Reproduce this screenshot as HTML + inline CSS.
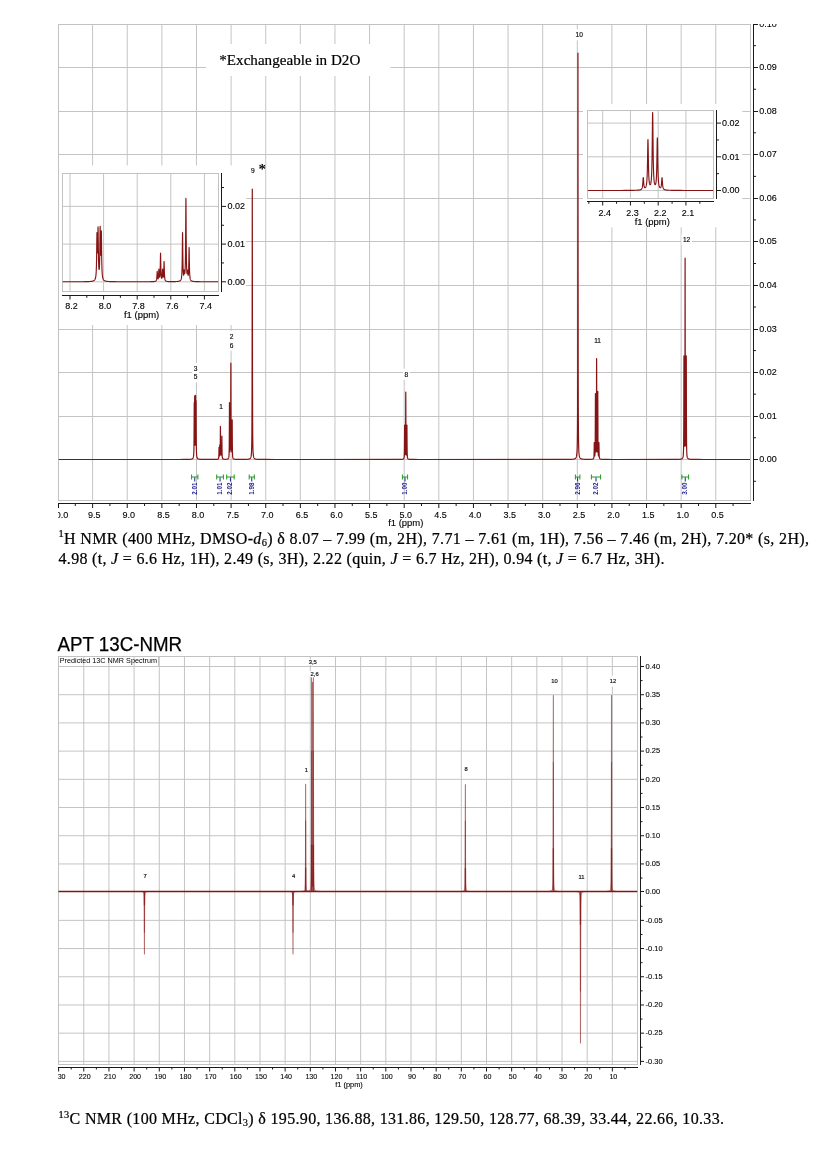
<!DOCTYPE html>
<html><head><meta charset="utf-8"><title>NMR spectra</title>
<style>
html,body{margin:0;padding:0;background:#fff;}
body{width:838px;height:1156px;position:relative;overflow:hidden;font-family:"Liberation Sans",sans-serif;}
</style></head><body>
<svg width="838" height="1156" viewBox="0 0 838 1156" style="position:absolute;left:0;top:0">
<rect width="838" height="1156" fill="#fff"/>
<g opacity="0.999">
<path d="M92.62 24.5 V500.5 M127.24 24.5 V500.5 M161.86 24.5 V500.5 M196.48 24.5 V500.5 M231.1 24.5 V500.5 M265.72 24.5 V500.5 M300.34 24.5 V500.5 M334.96 24.5 V500.5 M369.58 24.5 V500.5 M404.2 24.5 V500.5 M438.82 24.5 V500.5 M473.44 24.5 V500.5 M508.06 24.5 V500.5 M542.68 24.5 V500.5 M577.3 24.5 V500.5 M611.92 24.5 V500.5 M646.54 24.5 V500.5 M681.16 24.5 V500.5 M715.78 24.5 V500.5 M58.5 459.5 H750.5 M58.5 416.5 H750.5 M58.5 372.5 H750.5 M58.5 329.5 H750.5 M58.5 285.5 H750.5 M58.5 241.5 H750.5 M58.5 198.5 H750.5 M58.5 154.5 H750.5 M58.5 111.5 H750.5 M58.5 67.5 H750.5" stroke="#c4c4c4" stroke-width="1" fill="none"/>
<rect x="58.5" y="24.5" width="692" height="476" fill="none" stroke="#c2c2c2" stroke-width="1"/>
<rect x="206" y="44" width="184.5" height="32" fill="#fff"/>
<text x="219.3" y="65" font-family="Liberation Serif, serif" font-size="15.1" fill="#000" stroke="#000" stroke-width="0.2" textLength="141" lengthAdjust="spacingAndGlyphs">*Exchangeable in D2O</text>
<rect x="192.37" y="362.9" width="6.67" height="11" fill="#fff"/>
<text x="195.7" y="370.76" font-size="6.6" text-anchor="middle" fill="#111" stroke="#111" stroke-width="0.18" font-family="Liberation Sans, sans-serif">3</text>
<rect x="192.37" y="371.3" width="6.67" height="11" fill="#fff"/>
<text x="195.7" y="379.16" font-size="6.6" text-anchor="middle" fill="#111" stroke="#111" stroke-width="0.18" font-family="Liberation Sans, sans-serif">5</text>
<rect x="217.77" y="401.3" width="6.67" height="11" fill="#fff"/>
<text x="221.1" y="409.16" font-size="6.6" text-anchor="middle" fill="#111" stroke="#111" stroke-width="0.18" font-family="Liberation Sans, sans-serif">1</text>
<rect x="228.27" y="331.1" width="6.67" height="11" fill="#fff"/>
<text x="231.6" y="338.96" font-size="6.6" text-anchor="middle" fill="#111" stroke="#111" stroke-width="0.18" font-family="Liberation Sans, sans-serif">2</text>
<rect x="228.27" y="339.8" width="6.67" height="11" fill="#fff"/>
<text x="231.6" y="347.66" font-size="6.6" text-anchor="middle" fill="#111" stroke="#111" stroke-width="0.18" font-family="Liberation Sans, sans-serif">6</text>
<rect x="402.97" y="368.8" width="6.67" height="11" fill="#fff"/>
<text x="406.3" y="376.66" font-size="6.6" text-anchor="middle" fill="#111" stroke="#111" stroke-width="0.18" font-family="Liberation Sans, sans-serif">8</text>
<rect x="574.03" y="29.3" width="10.34" height="11" fill="#fff"/>
<text x="579.2" y="37.16" font-size="6.6" text-anchor="middle" fill="#111" stroke="#111" stroke-width="0.18" font-family="Liberation Sans, sans-serif">10</text>
<rect x="592.43" y="334.7" width="10.34" height="11" fill="#fff"/>
<text x="597.6" y="342.56" font-size="6.6" text-anchor="middle" fill="#111" stroke="#111" stroke-width="0.18" font-family="Liberation Sans, sans-serif">11</text>
<rect x="681.43" y="234.3" width="10.34" height="11" fill="#fff"/>
<text x="686.6" y="242.16" font-size="6.6" text-anchor="middle" fill="#111" stroke="#111" stroke-width="0.18" font-family="Liberation Sans, sans-serif">12</text>
<path d="M58.7 459.5 L179.06 459.48 L183.98 459.46 L186.14 459.44 L187.46 459.42 L188.3 459.39 L188.9 459.37 L189.38 459.35 L189.74 459.33 L190.1 459.3 L190.34 459.28 L190.58 459.26 L190.82 459.23 L191.06 459.2 L191.18 459.18 L191.3 459.15 L191.42 459.13 L191.54 459.1 L191.66 459.07 L191.78 459.03 L191.9 459 L192.02 458.95 L192.14 458.9 L192.26 458.84 L192.38 458.77 L192.5 458.68 L192.62 458.59 L192.74 458.47 L192.86 458.32 L192.98 458.14 L193.1 457.91 L193.22 457.61 L193.34 457.2 L193.46 456.63 L193.58 455.79 L193.7 454.47 L193.82 452.17 L193.94 447.64 L194.06 437.14 L194.18 413.2 L194.25 402.57 L194.3 406.76 L194.42 424.89 L194.54 421.94 L194.66 398.93 L194.7 395.9 L194.78 410.35 L194.9 434.29 L195.02 443.29 L195.14 445.26 L195.26 442.42 L195.38 431.54 L195.5 405.04 L195.56 395.44 L195.62 402.31 L195.74 425.13 L195.86 427.11 L195.98 408.31 L196.05 400.63 L196.1 407.86 L196.22 434.13 L196.34 446.42 L196.46 451.59 L196.58 454.15 L196.7 455.6 L196.82 456.5 L196.94 457.11 L197.06 457.54 L197.18 457.86 L197.3 458.1 L197.42 458.29 L197.54 458.44 L197.66 458.56 L197.78 458.67 L197.9 458.75 L198.02 458.82 L198.14 458.89 L198.26 458.94 L198.38 458.98 L198.5 459.03 L198.62 459.06 L198.74 459.09 L198.86 459.12 L198.98 459.15 L199.1 459.17 L199.22 459.19 L199.46 459.22 L199.7 459.25 L199.94 459.28 L200.18 459.3 L200.54 459.32 L200.9 459.35 L201.38 459.37 L201.98 459.39 L202.82 459.41 L204.14 459.43 L206.9 459.45 L214.58 459.43 L215.54 459.41 L216.14 459.39 L216.62 459.36 L216.98 459.33 L217.22 459.31 L217.46 459.27 L217.58 459.25 L217.7 459.22 L217.82 459.18 L217.94 459.14 L218.06 459.08 L218.18 459 L218.3 458.89 L218.42 458.72 L218.54 458.45 L218.66 457.94 L218.78 456.82 L218.9 453.71 L219.02 447.58 L219.04 447.38 L219.14 451.86 L219.26 455.46 L219.38 456.09 L219.5 454.97 L219.62 450.55 L219.73 444.86 L219.74 444.97 L219.86 451.39 L219.98 454.09 L220.1 453.46 L220.22 449.14 L220.34 435.38 L220.42 426.27 L220.46 429.51 L220.58 446.46 L220.7 453.02 L220.82 455.08 L220.94 455.3 L221.06 453.63 L221.18 447.71 L221.25 444.68 L221.3 446.54 L221.42 452.76 L221.54 454.14 L221.66 452.08 L221.78 443.6 L221.87 435.99 L221.9 437.26 L222.02 449.6 L222.14 454.99 L222.26 456.96 L222.38 457.84 L222.5 458.3 L222.62 458.58 L222.74 458.76 L222.86 458.89 L222.98 458.98 L223.1 459.04 L223.22 459.1 L223.34 459.14 L223.46 459.17 L223.58 459.19 L223.7 459.22 L223.94 459.25 L224.18 459.27 L224.66 459.29 L226.1 459.27 L226.46 459.24 L226.7 459.21 L226.94 459.18 L227.06 459.16 L227.18 459.13 L227.3 459.11 L227.42 459.08 L227.54 459.04 L227.66 458.99 L227.78 458.94 L227.9 458.88 L228.02 458.8 L228.14 458.7 L228.26 458.58 L228.38 458.42 L228.5 458.2 L228.62 457.9 L228.74 457.45 L228.86 456.76 L228.98 455.57 L229.1 453.28 L229.22 448.01 L229.34 433.09 L229.46 403.48 L229.48 402.56 L229.58 425.3 L229.7 444.54 L229.82 450.53 L229.94 451.84 L230.06 449.6 L230.17 445.81 L230.18 445.85 L230.3 449.41 L230.42 449.45 L230.54 444.92 L230.66 431.14 L230.78 390.21 L230.86 363.18 L230.9 372.63 L231.02 422.63 L231.14 442.2 L231.26 448.71 L231.38 450.06 L231.5 446.97 L231.55 446.04 L231.62 448.28 L231.74 451.85 L231.86 451.37 L231.98 446.15 L232.1 429.28 L232.17 419.81 L232.22 424.83 L232.34 444.85 L232.46 452.58 L232.58 455.48 L232.7 456.82 L232.82 457.55 L232.94 458 L233.06 458.29 L233.18 458.5 L233.3 458.65 L233.42 458.77 L233.54 458.86 L233.66 458.93 L233.78 458.99 L233.9 459.04 L234.02 459.08 L234.14 459.12 L234.26 459.15 L234.38 459.17 L234.5 459.2 L234.62 459.22 L234.86 459.25 L235.1 459.28 L235.34 459.3 L235.7 459.33 L236.06 459.35 L236.54 459.37 L237.26 459.39 L238.46 459.41 L245.06 459.39 L245.9 459.37 L246.5 459.34 L246.98 459.32 L247.34 459.29 L247.7 459.26 L247.94 459.24 L248.18 459.21 L248.42 459.17 L248.54 459.15 L248.66 459.13 L248.78 459.11 L248.9 459.08 L249.02 459.05 L249.14 459.02 L249.26 458.98 L249.38 458.94 L249.5 458.89 L249.62 458.84 L249.74 458.77 L249.86 458.7 L249.98 458.62 L250.1 458.52 L250.22 458.41 L250.34 458.27 L250.46 458.1 L250.58 457.91 L250.7 457.66 L250.82 457.35 L250.94 456.96 L251.06 456.45 L251.18 455.77 L251.3 454.83 L251.42 453.49 L251.54 451.48 L251.66 448.29 L251.78 442.78 L251.9 432.18 L252.02 408.33 L252.14 343.83 L252.26 204.13 L252.29 188.98 L252.38 272.77 L252.5 382.36 L252.62 422.1 L252.74 438.07 L252.86 445.76 L252.98 449.98 L253.1 452.52 L253.22 454.18 L253.34 455.31 L253.46 456.11 L253.58 456.71 L253.7 457.16 L253.82 457.51 L253.94 457.78 L254.06 458.01 L254.18 458.19 L254.3 458.34 L254.42 458.46 L254.54 458.57 L254.66 458.66 L254.78 458.74 L254.9 458.81 L255.02 458.87 L255.14 458.92 L255.26 458.96 L255.38 459 L255.5 459.04 L255.62 459.07 L255.74 459.1 L255.86 459.13 L255.98 459.15 L256.1 459.17 L256.34 459.21 L256.58 459.24 L256.82 459.27 L257.06 459.29 L257.42 459.32 L257.78 459.34 L258.26 459.36 L258.86 459.39 L259.58 459.41 L260.66 459.43 L262.34 459.45 L265.46 459.47 L275.9 459.49 L397.46 459.47 L399.26 459.45 L400.22 459.43 L400.94 459.4 L401.42 459.38 L401.78 459.35 L402.02 459.33 L402.26 459.3 L402.5 459.26 L402.62 459.24 L402.74 459.22 L402.86 459.18 L402.98 459.15 L403.1 459.1 L403.22 459.05 L403.34 458.98 L403.46 458.9 L403.58 458.79 L403.7 458.64 L403.82 458.43 L403.94 458.12 L404.06 457.62 L404.18 456.76 L404.3 455.04 L404.42 450.84 L404.54 438.68 L404.64 425.07 L404.66 425.74 L404.78 443.33 L404.9 451.74 L405.02 454.35 L405.14 454.96 L405.26 454.43 L405.38 452.55 L405.5 447.74 L405.62 434.08 L405.74 399.11 L405.78 392.06 L405.86 410.57 L405.98 439.65 L406.1 449.62 L406.22 453.28 L406.34 454.69 L406.46 454.91 L406.58 453.89 L406.7 450.24 L406.82 438.63 L406.92 425.07 L406.94 425.67 L407.06 443.54 L407.18 452.5 L407.3 455.67 L407.42 457.07 L407.54 457.79 L407.66 458.22 L407.78 458.49 L407.9 458.68 L408.02 458.82 L408.14 458.92 L408.26 459 L408.38 459.07 L408.5 459.12 L408.62 459.16 L408.74 459.19 L408.86 459.22 L408.98 459.25 L409.1 459.27 L409.34 459.31 L409.58 459.33 L409.82 459.35 L410.18 459.38 L410.66 459.4 L411.26 459.43 L412.22 459.45 L413.9 459.47 L418.82 459.49 L562.46 459.47 L565.94 459.45 L567.86 459.43 L569.06 459.41 L570.02 459.38 L570.74 459.36 L571.22 459.34 L571.7 459.31 L572.06 459.29 L572.42 459.26 L572.66 459.24 L572.9 459.22 L573.14 459.19 L573.38 459.15 L573.5 459.14 L573.62 459.12 L573.74 459.09 L573.86 459.07 L573.98 459.04 L574.1 459.02 L574.22 458.99 L574.34 458.95 L574.46 458.91 L574.58 458.87 L574.7 458.82 L574.82 458.77 L574.94 458.71 L575.06 458.65 L575.18 458.57 L575.3 458.49 L575.42 458.39 L575.54 458.28 L575.66 458.15 L575.78 457.99 L575.9 457.81 L576.02 457.6 L576.14 457.34 L576.26 457.02 L576.38 456.63 L576.5 456.14 L576.62 455.51 L576.74 454.69 L576.86 453.58 L576.98 452.04 L577.1 449.82 L577.22 446.44 L577.34 440.98 L577.46 431.32 L577.58 412.06 L577.7 366.63 L577.82 240.28 L577.94 53.12 L577.94 53.07 L578.06 235.58 L578.18 364.95 L578.3 411.4 L578.42 431.01 L578.54 440.81 L578.66 446.34 L578.78 449.75 L578.9 451.99 L579.02 453.55 L579.14 454.66 L579.26 455.49 L579.38 456.12 L579.5 456.62 L579.62 457.01 L579.74 457.33 L579.86 457.59 L579.98 457.8 L580.1 457.98 L580.22 458.14 L580.34 458.27 L580.46 458.38 L580.58 458.48 L580.7 458.56 L580.82 458.64 L580.94 458.7 L581.06 458.76 L581.18 458.81 L581.3 458.86 L581.42 458.9 L581.54 458.94 L581.66 458.97 L581.78 459.01 L581.9 459.03 L582.02 459.06 L582.14 459.08 L582.26 459.1 L582.5 459.14 L582.74 459.17 L582.98 459.2 L583.22 459.22 L583.46 459.25 L583.82 459.27 L584.18 459.29 L584.66 459.31 L585.26 459.34 L586.22 459.36 L590.42 459.34 L590.9 459.31 L591.26 459.29 L591.62 459.27 L591.86 459.24 L592.1 459.21 L592.22 459.19 L592.34 459.17 L592.46 459.15 L592.58 459.12 L592.7 459.09 L592.82 459.05 L592.94 459.01 L593.06 458.95 L593.18 458.89 L593.3 458.8 L593.42 458.69 L593.54 458.53 L593.66 458.29 L593.78 457.9 L593.9 457.19 L594.02 455.6 L594.14 451.18 L594.26 442.86 L594.27 442.69 L594.38 449.22 L594.5 454.31 L594.62 455.74 L594.74 455.9 L594.86 455.34 L594.98 453.9 L595.1 450.71 L595.22 442.69 L595.34 419.18 L595.44 393.51 L595.46 394.98 L595.58 429.05 L595.7 445.2 L595.82 450.41 L595.94 451.97 L596.06 451.67 L596.18 449.5 L596.3 443.74 L596.42 427.81 L596.54 382.04 L596.61 358.6 L596.66 372.78 L596.78 423.37 L596.9 442.23 L597.02 448.88 L597.14 451.41 L597.26 451.92 L597.38 450.62 L597.5 446.06 L597.62 432.05 L597.74 396.86 L597.78 391.34 L597.86 411.76 L597.98 439.95 L598.1 449.66 L598.22 453.41 L598.34 455.09 L598.46 455.8 L598.58 455.78 L598.7 454.64 L598.82 450.4 L598.94 442.71 L598.95 442.68 L599.06 449.98 L599.18 455.19 L599.3 457.03 L599.42 457.82 L599.54 458.25 L599.66 458.5 L599.78 458.67 L599.9 458.79 L600.02 458.89 L600.14 458.96 L600.26 459.01 L600.38 459.06 L600.5 459.1 L600.62 459.13 L600.74 459.16 L600.86 459.19 L600.98 459.21 L601.22 459.24 L601.46 459.27 L601.7 459.3 L602.06 459.33 L602.42 459.35 L602.9 459.37 L603.5 459.39 L604.34 459.42 L605.54 459.44 L607.7 459.46 L612.62 459.48 L672.86 459.46 L675.02 459.44 L676.34 459.42 L677.3 459.39 L678.02 459.37 L678.5 459.35 L678.98 459.32 L679.34 459.3 L679.7 459.27 L679.94 459.25 L680.18 459.22 L680.42 459.19 L680.54 459.17 L680.66 459.15 L680.78 459.13 L680.9 459.1 L681.02 459.08 L681.14 459.05 L681.26 459.01 L681.38 458.97 L681.5 458.93 L681.62 458.89 L681.74 458.83 L681.86 458.77 L681.98 458.7 L682.1 458.61 L682.22 458.51 L682.34 458.39 L682.46 458.25 L682.58 458.07 L682.7 457.85 L682.82 457.56 L682.94 457.18 L683.06 456.66 L683.18 455.92 L683.3 454.78 L683.42 452.89 L683.54 449.4 L683.66 441.8 L683.78 421.39 L683.9 368.62 L683.95 355.89 L684.02 381.51 L684.14 426.27 L684.26 441.14 L684.38 445.71 L684.5 446.14 L684.62 443.45 L684.74 436.02 L684.86 416.93 L684.98 360.69 L685.1 259.04 L685.11 258.14 L685.22 346.8 L685.34 412.32 L685.46 434.32 L685.58 442.77 L685.7 445.96 L685.82 445.96 L685.94 442.16 L686.06 429.53 L686.18 390.16 L686.27 355.89 L686.3 361.58 L686.42 416.28 L686.54 440.07 L686.66 448.68 L686.78 452.53 L686.9 454.57 L687.02 455.79 L687.14 456.58 L687.26 457.12 L687.38 457.52 L687.5 457.81 L687.62 458.04 L687.74 458.23 L687.86 458.38 L687.98 458.5 L688.1 458.6 L688.22 458.69 L688.34 458.76 L688.46 458.82 L688.58 458.88 L688.7 458.93 L688.82 458.97 L688.94 459.01 L689.06 459.04 L689.18 459.07 L689.3 459.1 L689.42 459.12 L689.54 459.15 L689.66 459.17 L689.9 459.2 L690.14 459.23 L690.38 459.26 L690.62 459.28 L690.98 459.31 L691.34 459.33 L691.82 459.35 L692.42 459.38 L693.14 459.4 L694.1 459.42 L695.54 459.44 L697.94 459.46 L703.7 459.48 L748.7 459.5" stroke="#861414" stroke-width="1.2" fill="none" stroke-linejoin="round"/>
<path d="M748.22 459.5 H750" stroke="#861414" stroke-width="1.2"/>
<path d="M753.5 24 V501 M753.5 481.28 h2.5 M753.5 459.5 h4.5 M753.5 437.72 h2.5 M753.5 416.5 h4.5 M753.5 394.16 h2.5 M753.5 372.5 h4.5 M753.5 350.6 h2.5 M753.5 329.5 h4.5 M753.5 307.04 h2.5 M753.5 285.5 h4.5 M753.5 263.48 h2.5 M753.5 241.5 h4.5 M753.5 219.92 h2.5 M753.5 198.5 h4.5 M753.5 176.36 h2.5 M753.5 154.5 h4.5 M753.5 132.8 h2.5 M753.5 111.5 h4.5 M753.5 89.24 h2.5 M753.5 67.5 h4.5 M753.5 45.68 h2.5 M753.5 24.5 h4.5 M58 503.5 H751 M58.5 503.5 v4.5 M75.31 503.5 v2.5 M92.62 503.5 v4.5 M109.93 503.5 v2.5 M127.24 503.5 v4.5 M144.55 503.5 v2.5 M161.86 503.5 v4.5 M179.17 503.5 v2.5 M196.48 503.5 v4.5 M213.79 503.5 v2.5 M231.1 503.5 v4.5 M248.41 503.5 v2.5 M265.72 503.5 v4.5 M283.03 503.5 v2.5 M300.34 503.5 v4.5 M317.65 503.5 v2.5 M334.96 503.5 v4.5 M352.27 503.5 v2.5 M369.58 503.5 v4.5 M386.89 503.5 v2.5 M404.2 503.5 v4.5 M421.51 503.5 v2.5 M438.82 503.5 v4.5 M456.13 503.5 v2.5 M473.44 503.5 v4.5 M490.75 503.5 v2.5 M508.06 503.5 v4.5 M525.37 503.5 v2.5 M542.68 503.5 v4.5 M559.99 503.5 v2.5 M577.3 503.5 v4.5 M594.61 503.5 v2.5 M611.92 503.5 v4.5 M629.23 503.5 v2.5 M646.54 503.5 v4.5 M663.85 503.5 v2.5 M681.16 503.5 v4.5 M698.47 503.5 v2.5 M715.78 503.5 v4.5 M733.09 503.5 v2.5" stroke="#1a1a1a" stroke-width="1" fill="none"/>
<g font-family="Liberation Sans, sans-serif" font-size="8.7" fill="#000" stroke="#000" stroke-width="0.12">
<clipPath id="ct"><rect x="750" y="24" width="88" height="500"/></clipPath>
<g clip-path="url(#ct)">
<text transform="translate(759.3 462.4) scale(1.035 1)">0.00</text>
<text transform="translate(759.3 419.4) scale(1.035 1)">0.01</text>
<text transform="translate(759.3 375.4) scale(1.035 1)">0.02</text>
<text transform="translate(759.3 332.4) scale(1.035 1)">0.03</text>
<text transform="translate(759.3 288.4) scale(1.035 1)">0.04</text>
<text transform="translate(759.3 244.4) scale(1.035 1)">0.05</text>
<text transform="translate(759.3 201.4) scale(1.035 1)">0.06</text>
<text transform="translate(759.3 157.4) scale(1.035 1)">0.07</text>
<text transform="translate(759.3 114.4) scale(1.035 1)">0.08</text>
<text transform="translate(759.3 70.4) scale(1.035 1)">0.09</text>
<text transform="translate(759.3 27.4) scale(1.035 1)">0.10</text>
</g>
<clipPath id="cl"><rect x="58.2" y="505" width="780" height="30"/></clipPath>
<g clip-path="url(#cl)" text-anchor="middle">
<text transform="translate(59.6 517.6) scale(1.035 1)">10.0</text>
<text transform="translate(94.22 517.6) scale(1.035 1)">9.5</text>
<text transform="translate(128.84 517.6) scale(1.035 1)">9.0</text>
<text transform="translate(163.46 517.6) scale(1.035 1)">8.5</text>
<text transform="translate(198.08 517.6) scale(1.035 1)">8.0</text>
<text transform="translate(232.7 517.6) scale(1.035 1)">7.5</text>
<text transform="translate(267.32 517.6) scale(1.035 1)">7.0</text>
<text transform="translate(301.94 517.6) scale(1.035 1)">6.5</text>
<text transform="translate(336.56 517.6) scale(1.035 1)">6.0</text>
<text transform="translate(371.18 517.6) scale(1.035 1)">5.5</text>
<text transform="translate(405.8 517.6) scale(1.035 1)">5.0</text>
<text transform="translate(440.42 517.6) scale(1.035 1)">4.5</text>
<text transform="translate(475.04 517.6) scale(1.035 1)">4.0</text>
<text transform="translate(509.66 517.6) scale(1.035 1)">3.5</text>
<text transform="translate(544.28 517.6) scale(1.035 1)">3.0</text>
<text transform="translate(578.9 517.6) scale(1.035 1)">2.5</text>
<text transform="translate(613.52 517.6) scale(1.035 1)">2.0</text>
<text transform="translate(648.14 517.6) scale(1.035 1)">1.5</text>
<text transform="translate(682.76 517.6) scale(1.035 1)">1.0</text>
<text transform="translate(717.38 517.6) scale(1.035 1)">0.5</text>
<text transform="translate(405.8 526.1) scale(1.09 1)">f1 (ppm)</text>
</g></g>
<rect x="59.1" y="165.5" width="187.1" height="159.5" fill="#fff"/>
<path d="M70 173.5 V291.5 M103.6 173.5 V291.5 M137.2 173.5 V291.5 M170.8 173.5 V291.5 M204.4 173.5 V291.5 M62.5 281.8 H218.5 M62.5 244.1 H218.5 M62.5 206.4 H218.5" stroke="#c4c4c4" stroke-width="1" fill="none"/>
<rect x="62.5" y="173.5" width="156" height="118" fill="none" stroke="#c2c2c2" stroke-width="1"/>
<clipPath id="ci62"><rect x="62.5" y="173.5" width="156" height="118"/></clipPath>
<path clip-path="url(#ci62)" d="M62.5 281.78 L73.9 281.76 L78.7 281.74 L81.58 281.72 L83.5 281.7 L84.94 281.67 L86.02 281.65 L86.86 281.63 L87.58 281.61 L88.18 281.59 L88.66 281.57 L89.14 281.54 L89.5 281.52 L89.86 281.5 L90.22 281.47 L90.46 281.45 L90.7 281.42 L90.94 281.4 L91.18 281.37 L91.42 281.34 L91.66 281.31 L91.9 281.27 L92.02 281.25 L92.14 281.23 L92.26 281.2 L92.38 281.18 L92.5 281.15 L92.62 281.12 L92.74 281.09 L92.86 281.05 L92.98 281.02 L93.1 280.98 L93.22 280.94 L93.34 280.89 L93.46 280.84 L93.58 280.78 L93.7 280.72 L93.82 280.66 L93.94 280.59 L94.06 280.51 L94.18 280.42 L94.3 280.32 L94.42 280.21 L94.54 280.08 L94.66 279.94 L94.78 279.77 L94.9 279.59 L95.02 279.37 L95.14 279.12 L95.26 278.82 L95.38 278.46 L95.5 278.03 L95.62 277.49 L95.74 276.83 L95.86 275.99 L95.98 274.89 L96.1 273.42 L96.22 271.41 L96.34 268.56 L96.46 264.44 L96.58 258.4 L96.7 249.87 L96.82 239.79 L96.94 232.92 L96.96 232.53 L97.06 234.66 L97.18 242.13 L97.3 249 L97.42 252.7 L97.54 252.97 L97.66 249.77 L97.78 242.98 L97.9 233.69 L98.02 227.06 L98.06 226.76 L98.14 229.77 L98.26 239.78 L98.38 250.11 L98.5 257.77 L98.62 262.85 L98.74 266.09 L98.86 268.07 L98.98 269.14 L99.1 269.49 L99.22 269.19 L99.34 268.17 L99.46 266.28 L99.58 263.15 L99.7 258.23 L99.82 250.78 L99.94 240.56 L100.06 230.14 L100.16 226.36 L100.18 226.48 L100.3 232.66 L100.42 242.39 L100.54 250.01 L100.66 254.21 L100.78 255.22 L100.9 253.17 L101.02 247.86 L101.14 239.7 L101.26 232.15 L101.33 230.85 L101.38 232 L101.5 240.32 L101.62 250.74 L101.74 259.08 L101.86 264.91 L101.98 268.87 L102.1 271.62 L102.22 273.57 L102.34 274.99 L102.46 276.06 L102.58 276.89 L102.7 277.54 L102.82 278.06 L102.94 278.49 L103.06 278.84 L103.18 279.14 L103.3 279.39 L103.42 279.6 L103.54 279.79 L103.66 279.95 L103.78 280.09 L103.9 280.21 L104.02 280.32 L104.14 280.42 L104.26 280.51 L104.38 280.59 L104.5 280.66 L104.62 280.73 L104.74 280.79 L104.86 280.84 L104.98 280.89 L105.1 280.94 L105.22 280.98 L105.34 281.02 L105.46 281.05 L105.58 281.09 L105.7 281.12 L105.82 281.15 L105.94 281.18 L106.06 281.2 L106.18 281.22 L106.3 281.25 L106.42 281.27 L106.66 281.31 L106.9 281.34 L107.14 281.37 L107.38 281.4 L107.62 281.42 L107.86 281.45 L108.1 281.47 L108.46 281.49 L108.82 281.52 L109.18 281.54 L109.66 281.56 L110.14 281.58 L110.74 281.61 L111.46 281.63 L112.3 281.65 L113.38 281.67 L114.7 281.69 L116.62 281.71 L119.5 281.73 L125.02 281.75 L147.46 281.73 L149.62 281.71 L150.94 281.69 L151.78 281.67 L152.5 281.64 L152.98 281.62 L153.34 281.6 L153.7 281.58 L153.94 281.56 L154.18 281.53 L154.42 281.5 L154.66 281.47 L154.78 281.44 L154.9 281.42 L155.02 281.39 L155.14 281.36 L155.26 281.32 L155.38 281.28 L155.5 281.23 L155.62 281.17 L155.74 281.1 L155.86 281.01 L155.98 280.9 L156.1 280.76 L156.22 280.57 L156.34 280.31 L156.46 279.96 L156.58 279.43 L156.7 278.63 L156.82 277.38 L156.94 275.45 L157.06 272.95 L157.18 271.34 L157.19 271.31 L157.3 272.36 L157.42 274.71 L157.54 276.64 L157.66 277.83 L157.78 278.49 L157.9 278.81 L158.02 278.86 L158.14 278.68 L158.26 278.23 L158.38 277.43 L158.5 276.06 L158.62 273.88 L158.74 271.02 L158.86 269.16 L158.87 269.13 L158.98 270.32 L159.1 273 L159.22 275.15 L159.34 276.43 L159.46 277.05 L159.58 277.2 L159.7 276.95 L159.82 276.29 L159.94 275.08 L160.06 273.05 L160.18 269.69 L160.3 264.4 L160.42 257.48 L160.54 253.08 L160.55 253.04 L160.66 256.2 L160.78 263.15 L160.9 268.91 L161.02 272.66 L161.14 274.98 L161.26 276.43 L161.38 277.33 L161.5 277.88 L161.62 278.17 L161.74 278.24 L161.86 278.09 L161.98 277.65 L162.1 276.82 L162.22 275.37 L162.34 273.08 L162.46 270.27 L162.57 268.97 L162.58 268.99 L162.7 270.72 L162.82 273.43 L162.94 275.44 L163.06 276.59 L163.18 277.1 L163.3 277.14 L163.42 276.71 L163.54 275.72 L163.66 273.93 L163.78 270.91 L163.9 266.44 L164.02 262.15 L164.08 261.45 L164.14 262.24 L164.26 266.69 L164.38 271.34 L164.5 274.58 L164.62 276.63 L164.74 277.94 L164.86 278.81 L164.98 279.41 L165.1 279.84 L165.22 280.16 L165.34 280.4 L165.46 280.59 L165.58 280.73 L165.7 280.85 L165.82 280.95 L165.94 281.03 L166.06 281.1 L166.18 281.16 L166.3 281.21 L166.42 281.25 L166.54 281.29 L166.66 281.32 L166.78 281.35 L166.9 281.37 L167.02 281.4 L167.14 281.42 L167.38 281.45 L167.62 281.48 L167.86 281.51 L168.22 281.53 L168.58 281.56 L169.06 281.58 L169.78 281.6 L171.22 281.62 L174.22 281.6 L175.06 281.58 L175.66 281.56 L176.14 281.54 L176.62 281.51 L176.98 281.48 L177.34 281.45 L177.58 281.43 L177.82 281.4 L178.06 281.37 L178.3 281.34 L178.42 281.32 L178.54 281.3 L178.66 281.28 L178.78 281.25 L178.9 281.22 L179.02 281.19 L179.14 281.16 L179.26 281.13 L179.38 281.09 L179.5 281.04 L179.62 281 L179.74 280.94 L179.86 280.88 L179.98 280.82 L180.1 280.74 L180.22 280.65 L180.34 280.55 L180.46 280.44 L180.58 280.3 L180.7 280.14 L180.82 279.95 L180.94 279.72 L181.06 279.44 L181.18 279.09 L181.3 278.65 L181.42 278.07 L181.54 277.32 L181.66 276.29 L181.78 274.84 L181.9 272.73 L182.02 269.54 L182.14 264.54 L182.26 256.63 L182.38 245.26 L182.5 234.39 L182.56 232.52 L182.62 234.31 L182.74 245.01 L182.86 256.2 L182.98 263.91 L183.1 268.71 L183.22 271.65 L183.34 273.46 L183.46 274.53 L183.58 275.08 L183.7 275.16 L183.82 274.75 L183.94 273.73 L184.06 272.03 L184.18 270.3 L184.24 269.95 L184.3 270.14 L184.42 271.55 L184.54 272.89 L184.66 273.51 L184.78 273.45 L184.9 272.77 L185.02 271.45 L185.14 269.31 L185.26 265.98 L185.38 260.76 L185.5 252.42 L185.62 239.12 L185.74 219.91 L185.86 201.54 L185.92 198.43 L185.98 201.55 L186.1 219.92 L186.22 239.15 L186.34 252.46 L186.46 260.81 L186.58 266.05 L186.7 269.39 L186.82 271.54 L186.94 272.87 L187.06 273.57 L187.18 273.65 L187.3 273.04 L187.42 271.72 L187.54 270.33 L187.6 270.15 L187.66 270.51 L187.78 272.25 L187.9 273.95 L188.02 274.97 L188.14 275.37 L188.26 275.23 L188.38 274.56 L188.5 273.23 L188.62 270.9 L188.74 267 L188.86 260.78 L188.98 252.63 L189.1 247.49 L189.11 247.45 L189.22 251.29 L189.34 259.64 L189.46 266.6 L189.58 271.16 L189.7 274.05 L189.82 275.92 L189.94 277.19 L190.06 278.07 L190.18 278.71 L190.3 279.18 L190.42 279.55 L190.54 279.84 L190.66 280.07 L190.78 280.26 L190.9 280.41 L191.02 280.54 L191.14 280.65 L191.26 280.75 L191.38 280.83 L191.5 280.9 L191.62 280.96 L191.74 281.02 L191.86 281.07 L191.98 281.11 L192.1 281.15 L192.22 281.19 L192.34 281.22 L192.46 281.25 L192.58 281.28 L192.7 281.3 L192.82 281.32 L192.94 281.35 L193.18 281.38 L193.42 281.42 L193.66 281.44 L193.9 281.47 L194.14 281.49 L194.5 281.52 L194.86 281.54 L195.22 281.56 L195.7 281.59 L196.3 281.61 L197.02 281.63 L197.86 281.66 L198.94 281.68 L200.5 281.7 L203.02 281.72 L218.5 281.72" stroke="#861414" stroke-width="1.15" fill="none" stroke-linejoin="round"/>
<path d="M221.5 173 V292 M221.5 281.8 h4.5 M221.5 244.1 h4.5 M221.5 206.4 h4.5 M221.5 262.95 h2.5 M221.5 225.25 h2.5 M221.5 187.55 h2.5 M62 295.5 H219 M70 295.5 v4 M103.6 295.5 v4 M137.2 295.5 v4 M170.8 295.5 v4 M204.4 295.5 v4 M86.8 295.5 v2.3 M120.4 295.5 v2.3 M154 295.5 v2.3 M187.6 295.5 v2.3" stroke="#1a1a1a" stroke-width="1" fill="none"/>
<g font-family="Liberation Sans, sans-serif" font-size="8.7" fill="#000" stroke="#000" stroke-width="0.12">
<text transform="translate(227.6 284.7) scale(1.035 1)">0.00</text>
<text transform="translate(227.6 247) scale(1.035 1)">0.01</text>
<text transform="translate(227.6 209.3) scale(1.035 1)">0.02</text>
<g text-anchor="middle">
<text transform="translate(71.4 309.4) scale(1.035 1)">8.2</text>
<text transform="translate(105 309.4) scale(1.035 1)">8.0</text>
<text transform="translate(138.6 309.4) scale(1.035 1)">7.8</text>
<text transform="translate(172.2 309.4) scale(1.035 1)">7.6</text>
<text transform="translate(205.8 309.4) scale(1.035 1)">7.4</text>
<text transform="translate(141.6 317.9) scale(1.09 1)">f1 (ppm)</text>
</g></g>
<rect x="583" y="104" width="159.3" height="123.3" fill="#fff"/>
<path d="M602.7 110.5 V198.5 M630.45 110.5 V198.5 M658.2 110.5 V198.5 M685.95 110.5 V198.5 M587.5 190.5 H713.5 M587.5 156.8 H713.5 M587.5 123.1 H713.5" stroke="#c4c4c4" stroke-width="1" fill="none"/>
<rect x="587.5" y="110.5" width="126" height="88" fill="none" stroke="#c2c2c2" stroke-width="1"/>
<clipPath id="ci587"><rect x="587.5" y="110.5" width="126" height="88"/></clipPath>
<path clip-path="url(#ci587)" d="M587.5 190.49 L612.22 190.47 L620.62 190.45 L625.06 190.43 L627.94 190.41 L629.98 190.39 L631.54 190.37 L632.74 190.35 L633.7 190.33 L634.54 190.3 L635.26 190.28 L635.86 190.26 L636.34 190.24 L636.82 190.22 L637.18 190.19 L637.54 190.17 L637.9 190.15 L638.26 190.11 L638.5 190.09 L638.74 190.07 L638.98 190.04 L639.22 190 L639.46 189.97 L639.58 189.95 L639.7 189.92 L639.82 189.9 L639.94 189.87 L640.06 189.84 L640.18 189.81 L640.3 189.78 L640.42 189.74 L640.54 189.7 L640.66 189.65 L640.78 189.6 L640.9 189.54 L641.02 189.48 L641.14 189.4 L641.26 189.31 L641.38 189.21 L641.5 189.1 L641.62 188.96 L641.74 188.79 L641.86 188.59 L641.98 188.34 L642.1 188.04 L642.22 187.65 L642.34 187.15 L642.46 186.5 L642.58 185.65 L642.7 184.53 L642.82 183.08 L642.94 181.3 L643.06 179.4 L643.18 177.93 L643.27 177.52 L643.3 177.55 L643.42 178.47 L643.54 180.17 L643.66 181.98 L643.78 183.53 L643.9 184.74 L644.02 185.64 L644.14 186.3 L644.26 186.79 L644.38 187.14 L644.5 187.39 L644.62 187.56 L644.74 187.67 L644.86 187.74 L644.98 187.76 L645.1 187.75 L645.22 187.7 L645.34 187.63 L645.46 187.51 L645.58 187.37 L645.7 187.18 L645.82 186.96 L645.94 186.68 L646.06 186.35 L646.18 185.94 L646.3 185.45 L646.42 184.84 L646.54 184.1 L646.66 183.17 L646.78 182 L646.9 180.51 L647.02 178.58 L647.14 176.04 L647.26 172.7 L647.38 168.27 L647.5 162.5 L647.62 155.37 L647.74 147.65 L647.86 141.43 L647.96 139.46 L647.98 139.54 L648.1 143.03 L648.22 149.98 L648.34 157.58 L648.46 164.21 L648.58 169.43 L648.7 173.38 L648.82 176.34 L648.94 178.55 L649.06 180.22 L649.18 181.48 L649.3 182.44 L649.42 183.17 L649.54 183.73 L649.66 184.14 L649.78 184.43 L649.9 184.62 L650.02 184.73 L650.14 184.75 L650.26 184.7 L650.38 184.57 L650.5 184.35 L650.62 184.05 L650.74 183.65 L650.86 183.13 L650.98 182.47 L651.1 181.64 L651.22 180.58 L651.34 179.25 L651.46 177.55 L651.58 175.36 L651.7 172.51 L651.82 168.76 L651.94 163.78 L652.06 157.16 L652.18 148.51 L652.3 137.74 L652.42 125.89 L652.54 116.01 L652.65 112.46 L652.66 112.49 L652.78 117.33 L652.9 127.84 L653.02 139.66 L653.14 150.1 L653.26 158.39 L653.38 164.7 L653.5 169.45 L653.62 173.03 L653.74 175.75 L653.86 177.84 L653.98 179.47 L654.1 180.75 L654.22 181.76 L654.34 182.56 L654.46 183.19 L654.58 183.68 L654.7 184.06 L654.82 184.34 L654.94 184.53 L655.06 184.64 L655.18 184.68 L655.3 184.63 L655.42 184.5 L655.54 184.28 L655.66 183.95 L655.78 183.5 L655.9 182.89 L656.02 182.09 L656.14 181.05 L656.26 179.68 L656.38 177.87 L656.5 175.47 L656.62 172.26 L656.74 167.97 L656.86 162.33 L656.98 155.25 L657.1 147.35 L657.22 140.54 L657.34 137.78 L657.34 137.78 L657.46 140.65 L657.58 147.54 L657.7 155.53 L657.82 162.69 L657.94 168.41 L658.06 172.78 L658.18 176.08 L658.3 178.58 L658.42 180.49 L658.54 181.97 L658.66 183.13 L658.78 184.06 L658.9 184.8 L659.02 185.4 L659.14 185.9 L659.26 186.3 L659.38 186.64 L659.5 186.92 L659.62 187.14 L659.74 187.33 L659.86 187.47 L659.98 187.59 L660.1 187.66 L660.22 187.71 L660.34 187.72 L660.46 187.69 L660.58 187.62 L660.7 187.5 L660.82 187.32 L660.94 187.06 L661.06 186.69 L661.18 186.18 L661.3 185.48 L661.42 184.54 L661.54 183.27 L661.66 181.67 L661.78 179.84 L661.9 178.22 L662.02 177.5 L662.03 177.5 L662.14 178.1 L662.26 179.69 L662.38 181.6 L662.5 183.33 L662.62 184.72 L662.74 185.8 L662.86 186.61 L662.98 187.23 L663.1 187.71 L663.22 188.08 L663.34 188.38 L663.46 188.62 L663.58 188.81 L663.7 188.97 L663.82 189.11 L663.94 189.22 L664.06 189.32 L664.18 189.41 L664.3 189.48 L664.42 189.55 L664.54 189.6 L664.66 189.65 L664.78 189.7 L664.9 189.74 L665.02 189.78 L665.14 189.81 L665.26 189.84 L665.38 189.87 L665.5 189.9 L665.62 189.92 L665.74 189.94 L665.86 189.97 L666.1 190 L666.34 190.04 L666.58 190.06 L666.82 190.09 L667.06 190.11 L667.3 190.13 L667.66 190.16 L668.02 190.19 L668.38 190.21 L668.86 190.23 L669.34 190.25 L669.94 190.28 L670.66 190.3 L671.5 190.32 L672.46 190.34 L673.66 190.36 L675.22 190.38 L677.26 190.4 L680.14 190.43 L684.58 190.45 L692.62 190.47 L713.5 190.49" stroke="#861414" stroke-width="1.15" fill="none" stroke-linejoin="round"/>
<path d="M716.5 110 V199 M716.5 190.5 h4.5 M716.5 156.8 h4.5 M716.5 123.1 h4.5 M716.5 173.65 h2.5 M716.5 139.95 h2.5 M587 201.5 H714 M602.7 201.5 v4 M630.45 201.5 v4 M658.2 201.5 v4 M685.95 201.5 v4 M588.83 201.5 v2.3 M616.58 201.5 v2.3 M644.33 201.5 v2.3 M672.08 201.5 v2.3 M699.83 201.5 v2.3" stroke="#1a1a1a" stroke-width="1" fill="none"/>
<g font-family="Liberation Sans, sans-serif" font-size="8.7" fill="#000" stroke="#000" stroke-width="0.12">
<text transform="translate(722 193.4) scale(1.035 1)">0.00</text>
<text transform="translate(722 159.7) scale(1.035 1)">0.01</text>
<text transform="translate(722 126) scale(1.035 1)">0.02</text>
<g text-anchor="middle">
<text transform="translate(604.7 215.8) scale(1.035 1)">2.4</text>
<text transform="translate(632.45 215.8) scale(1.035 1)">2.3</text>
<text transform="translate(660.2 215.8) scale(1.035 1)">2.2</text>
<text transform="translate(687.95 215.8) scale(1.035 1)">2.1</text>
<text transform="translate(652.3 225) scale(1.09 1)">f1 (ppm)</text>
</g></g>
<rect x="249.47" y="165" width="6.67" height="11" fill="#fff"/>
<text x="252.8" y="172.86" font-size="6.6" text-anchor="middle" fill="#111" stroke="#111" stroke-width="0.18" font-family="Liberation Sans, sans-serif">9</text>
<text x="258.6" y="174.2" font-family="Liberation Serif, serif" font-size="15" font-weight="bold" fill="#000">*</text>
<path d="M191.6 474.5 v5 M197.9 474.5 v5 M191.6 477 H197.9 M216.7 474.5 v5 M223.4 474.5 v5 M216.7 477 H223.4 M226.7 474.5 v5 M234.2 474.5 v5 M226.7 477 H234.2 M249.2 474.5 v5 M254.3 474.5 v5 M249.2 477 H254.3 M402.4 474.5 v5 M407.6 474.5 v5 M402.4 477 H407.6 M575.4 474.5 v5 M579.9 474.5 v5 M575.4 477 H579.9 M591.4 474.5 v5 M600.6 474.5 v5 M591.4 477 H600.6 M681.9 474.5 v5 M688.6 474.5 v5 M681.9 477 H688.6" stroke="#1f9a1f" stroke-width="1" fill="none"/>
<path d="M194.75 477.5 v4 M220.05 477.5 v4 M230.45 477.5 v4 M251.75 477.5 v4 M405 477.5 v4 M577.65 477.5 v4 M596 477.5 v4 M685.25 477.5 v4" stroke="#1d1d90" stroke-width="1" fill="none"/>
<g font-family="Liberation Sans, sans-serif" font-size="6.3" font-weight="bold" fill="#1d1d90">
<text transform="translate(196.65 494.8) rotate(-90)">2.01</text>
<text transform="translate(221.95 494.8) rotate(-90)">1.01</text>
<text transform="translate(232.35 494.8) rotate(-90)">2.02</text>
<text transform="translate(253.65 494.8) rotate(-90)">1.98</text>
<text transform="translate(406.9 494.8) rotate(-90)">1.00</text>
<text transform="translate(579.55 494.8) rotate(-90)">2.96</text>
<text transform="translate(597.9 494.8) rotate(-90)">2.02</text>
<text transform="translate(687.15 494.8) rotate(-90)">3.00</text>
</g>
<path d="M612.35 656.5 V1064.5 M587.18 656.5 V1064.5 M562.01 656.5 V1064.5 M536.84 656.5 V1064.5 M511.67 656.5 V1064.5 M486.5 656.5 V1064.5 M461.33 656.5 V1064.5 M436.16 656.5 V1064.5 M410.99 656.5 V1064.5 M385.82 656.5 V1064.5 M360.65 656.5 V1064.5 M335.48 656.5 V1064.5 M310.31 656.5 V1064.5 M285.14 656.5 V1064.5 M259.97 656.5 V1064.5 M234.8 656.5 V1064.5 M209.63 656.5 V1064.5 M184.46 656.5 V1064.5 M159.29 656.5 V1064.5 M134.12 656.5 V1064.5 M108.95 656.5 V1064.5 M83.78 656.5 V1064.5 M58.5 1061.38 H637.5 M58.5 1033.17 H637.5 M58.5 1004.97 H637.5 M58.5 976.76 H637.5 M58.5 948.56 H637.5 M58.5 920.36 H637.5 M58.5 891.5 H637.5 M58.5 863.94 H637.5 M58.5 835.74 H637.5 M58.5 807.53 H637.5 M58.5 779.33 H637.5 M58.5 751.12 H637.5 M58.5 722.92 H637.5 M58.5 694.71 H637.5 M58.5 666.51 H637.5" stroke="#c4c4c4" stroke-width="1" fill="none"/>
<rect x="58.5" y="656.5" width="579" height="408" fill="none" stroke="#c2c2c2" stroke-width="1"/>
<path d="M158.5 656.5 V666.5" stroke="#c2c2c2" stroke-width="1"/>
<text x="59.8" y="662.9" font-family="Liberation Sans, sans-serif" font-size="7.3" fill="#000" textLength="97.2" lengthAdjust="spacingAndGlyphs">Predicted 13C NMR Spectrum</text>
<rect x="142.09" y="870.6" width="6.22" height="11" fill="#fff"/>
<text x="145.2" y="878.18" font-size="5.8" text-anchor="middle" fill="#111" stroke="#111" stroke-width="0.18" font-family="Liberation Sans, sans-serif">7</text>
<rect x="290.49" y="870.6" width="6.22" height="11" fill="#fff"/>
<text x="293.6" y="878.18" font-size="5.8" text-anchor="middle" fill="#111" stroke="#111" stroke-width="0.18" font-family="Liberation Sans, sans-serif">4</text>
<rect x="303.29" y="764" width="6.22" height="11" fill="#fff"/>
<text x="306.4" y="771.58" font-size="5.8" text-anchor="middle" fill="#111" stroke="#111" stroke-width="0.18" font-family="Liberation Sans, sans-serif">1</text>
<rect x="307.17" y="659.4" width="11.06" height="5.6" fill="#fff"/>
<text x="312.7" y="664.28" font-size="5.8" text-anchor="middle" fill="#111" stroke="#111" stroke-width="0.18" font-family="Liberation Sans, sans-serif">3,5</text>
<rect x="309.07" y="671.2" width="11.06" height="5.6" fill="#fff"/>
<text x="314.6" y="676.08" font-size="5.8" text-anchor="middle" fill="#111" stroke="#111" stroke-width="0.18" font-family="Liberation Sans, sans-serif">2,6</text>
<rect x="462.89" y="763.3" width="6.22" height="11" fill="#fff"/>
<text x="466" y="770.88" font-size="5.8" text-anchor="middle" fill="#111" stroke="#111" stroke-width="0.18" font-family="Liberation Sans, sans-serif">8</text>
<rect x="549.88" y="675.5" width="9.45" height="11" fill="#fff"/>
<text x="554.6" y="683.08" font-size="5.8" text-anchor="middle" fill="#111" stroke="#111" stroke-width="0.18" font-family="Liberation Sans, sans-serif">10</text>
<rect x="576.78" y="871.1" width="9.45" height="11" fill="#fff"/>
<text x="581.5" y="878.68" font-size="5.8" text-anchor="middle" fill="#111" stroke="#111" stroke-width="0.18" font-family="Liberation Sans, sans-serif">11</text>
<rect x="608.38" y="675.6" width="9.45" height="11" fill="#fff"/>
<text x="613.1" y="683.18" font-size="5.8" text-anchor="middle" fill="#111" stroke="#111" stroke-width="0.18" font-family="Liberation Sans, sans-serif">12</text>
<path d="M312.49 891.5 V681.92" stroke="#861414" stroke-width="1.1" stroke-opacity="0.6" fill="none"/>
<path d="M58.61 891.5 L138.85 891.52 L140.49 891.54 L141.21 891.56 L141.65 891.58 L141.97 891.6 L142.21 891.63 L142.37 891.65 L142.53 891.67 L142.65 891.7 L142.77 891.73 L142.85 891.75 L142.93 891.78 L143.01 891.81 L143.09 891.85 L143.13 891.87 L143.17 891.89 L143.21 891.92 L143.25 891.94 L143.29 891.98 L143.33 892.01 L143.37 892.05 L143.41 892.09 L143.45 892.14 L143.49 892.19 L143.53 892.26 L143.57 892.33 L143.61 892.41 L143.65 892.5 L143.69 892.61 L143.73 892.73 L143.77 892.88 L143.81 893.06 L143.85 893.27 L143.89 893.53 L143.93 893.85 L143.97 894.25 L144.01 894.75 L144.05 895.41 L144.09 896.29 L144.13 897.48 L144.17 899.15 L144.21 901.58 L144.25 905.24 L144.29 910.98 L144.33 920.09 L144.37 933.78 L144.41 949.03 L144.44 954.04 L144.45 953.39 L144.49 941.55 L144.53 926.16 L144.57 914.88 L144.61 907.7 L144.65 903.16 L144.69 900.21 L144.73 898.21 L144.77 896.82 L144.81 895.8 L144.85 895.05 L144.89 894.48 L144.93 894.03 L144.97 893.68 L145.01 893.39 L145.05 893.16 L145.09 892.96 L145.13 892.8 L145.17 892.67 L145.21 892.55 L145.25 892.45 L145.29 892.36 L145.33 892.29 L145.37 892.22 L145.41 892.17 L145.45 892.11 L145.49 892.07 L145.53 892.03 L145.57 891.99 L145.61 891.96 L145.65 891.93 L145.69 891.9 L145.73 891.88 L145.77 891.86 L145.81 891.84 L145.89 891.8 L145.97 891.77 L146.05 891.74 L146.13 891.72 L146.25 891.69 L146.37 891.67 L146.53 891.64 L146.73 891.62 L146.97 891.6 L147.29 891.58 L147.77 891.56 L148.61 891.54 L150.65 891.52 L289.41 891.54 L290.01 891.56 L290.37 891.58 L290.65 891.6 L290.85 891.62 L291.01 891.65 L291.13 891.67 L291.25 891.69 L291.33 891.71 L291.41 891.74 L291.49 891.76 L291.57 891.8 L291.65 891.83 L291.69 891.86 L291.73 891.88 L291.77 891.91 L291.81 891.93 L291.85 891.97 L291.89 892 L291.93 892.04 L291.97 892.08 L292.01 892.13 L292.05 892.19 L292.09 892.25 L292.13 892.32 L292.17 892.41 L292.21 892.5 L292.25 892.61 L292.29 892.74 L292.33 892.89 L292.37 893.07 L292.41 893.29 L292.45 893.56 L292.49 893.89 L292.53 894.31 L292.57 894.83 L292.61 895.52 L292.65 896.44 L292.69 897.7 L292.73 899.47 L292.77 902.07 L292.81 906.01 L292.85 912.2 L292.89 922.03 L292.93 936.41 L292.97 950.91 L292.99 954.02 L293.01 952.29 L293.05 938.86 L293.09 923.93 L293.13 913.42 L293.17 906.77 L293.21 902.56 L293.25 899.8 L293.29 897.93 L293.33 896.61 L293.37 895.64 L293.41 894.93 L293.45 894.38 L293.49 893.95 L293.53 893.6 L293.57 893.33 L293.61 893.1 L293.65 892.92 L293.69 892.76 L293.73 892.63 L293.77 892.51 L293.81 892.42 L293.85 892.33 L293.89 892.26 L293.93 892.19 L293.97 892.14 L294.01 892.09 L294.05 892.04 L294.09 892 L294.13 891.97 L294.17 891.93 L294.21 891.9 L294.25 891.88 L294.29 891.85 L294.33 891.83 L294.37 891.81 L294.45 891.78 L294.53 891.74 L294.61 891.72 L294.69 891.7 L294.81 891.67 L294.93 891.64 L295.09 891.62 L295.25 891.6 L295.45 891.58 L295.73 891.56 L296.09 891.54 L296.61 891.52 L297.41 891.5 L298.53 891.48 L299.69 891.46 L300.65 891.44 L301.33 891.41 L301.85 891.39 L302.21 891.37 L302.49 891.35 L302.73 891.33 L302.93 891.31 L303.09 891.29 L303.25 891.26 L303.37 891.24 L303.49 891.21 L303.61 891.18 L303.69 891.16 L303.77 891.13 L303.85 891.1 L303.93 891.07 L303.97 891.05 L304.01 891.03 L304.05 891.01 L304.09 890.99 L304.13 890.96 L304.17 890.93 L304.21 890.9 L304.25 890.87 L304.29 890.84 L304.33 890.8 L304.37 890.76 L304.41 890.71 L304.45 890.66 L304.49 890.6 L304.53 890.54 L304.57 890.47 L304.61 890.4 L304.65 890.31 L304.69 890.21 L304.73 890.1 L304.77 889.98 L304.81 889.83 L304.85 889.67 L304.89 889.47 L304.93 889.25 L304.97 888.98 L305.01 888.66 L305.05 888.27 L305.09 887.8 L305.13 887.22 L305.17 886.49 L305.21 885.56 L305.25 884.34 L305.29 882.71 L305.33 880.47 L305.37 877.3 L305.41 872.65 L305.45 865.55 L305.49 854.36 L305.53 836.65 L305.57 811.3 L305.61 787.81 L305.63 784.36 L305.65 789.08 L305.69 813.53 L305.73 838.38 L305.77 855.46 L305.81 866.24 L305.85 873.09 L305.89 877.59 L305.93 880.67 L305.97 882.84 L306.01 884.43 L306.05 885.62 L306.09 886.53 L306.13 887.24 L306.17 887.81 L306.21 888.27 L306.25 888.65 L306.29 888.96 L306.33 889.22 L306.37 889.44 L306.41 889.63 L306.45 889.79 L306.49 889.93 L306.53 890.05 L306.57 890.16 L306.61 890.25 L306.65 890.34 L306.69 890.41 L306.73 890.48 L306.77 890.53 L306.81 890.59 L306.85 890.63 L306.89 890.68 L306.93 890.71 L306.97 890.75 L307.01 890.78 L307.05 890.81 L307.09 890.84 L307.13 890.86 L307.17 890.88 L307.25 890.92 L307.33 890.95 L307.41 890.98 L307.49 891 L307.61 891.03 L307.77 891.05 L308.13 891.07 L308.53 891.05 L308.73 891.02 L308.85 891 L308.97 890.98 L309.05 890.96 L309.13 890.93 L309.21 890.91 L309.29 890.88 L309.37 890.85 L309.45 890.81 L309.49 890.79 L309.53 890.77 L309.57 890.75 L309.61 890.72 L309.65 890.7 L309.69 890.67 L309.73 890.64 L309.77 890.61 L309.81 890.58 L309.85 890.54 L309.89 890.5 L309.93 890.46 L309.97 890.42 L310.01 890.37 L310.05 890.32 L310.09 890.27 L310.13 890.21 L310.17 890.15 L310.21 890.08 L310.25 890 L310.29 889.92 L310.33 889.83 L310.37 889.73 L310.41 889.62 L310.45 889.5 L310.49 889.36 L310.53 889.21 L310.57 889.05 L310.61 888.86 L310.65 888.65 L310.69 888.41 L310.73 888.13 L310.77 887.82 L310.81 887.45 L310.85 887.03 L310.89 886.53 L310.93 885.95 L310.97 885.24 L311.01 884.39 L311.05 883.34 L311.09 882.04 L311.13 880.39 L311.17 878.26 L311.21 875.45 L311.25 871.66 L311.29 866.37 L311.33 858.76 L311.37 847.37 L311.41 829.7 L311.45 801.63 L311.49 758.44 L311.53 705.06 L311.57 677.87 L311.57 677.91 L311.61 708.77 L311.65 762.12 L311.69 804.04 L311.73 831.1 L311.77 848.12 L311.81 859.1 L311.85 866.43 L311.89 871.52 L311.93 875.16 L311.97 877.83 L312.01 879.85 L312.05 881.39 L312.09 882.58 L312.13 883.52 L312.17 884.27 L312.21 884.86 L312.25 885.32 L312.29 885.69 L312.33 885.97 L312.37 886.18 L312.41 886.32 L312.45 886.4 L312.49 886.42 L312.53 886.39 L312.57 886.3 L312.61 886.15 L312.65 885.94 L312.69 885.65 L312.73 885.27 L312.77 884.79 L312.81 884.18 L312.85 883.41 L312.89 882.44 L312.93 881.2 L312.97 879.6 L313.01 877.51 L313.05 874.72 L313.09 870.92 L313.13 865.58 L313.17 857.83 L313.21 846.19 L313.25 828.05 L313.29 799.18 L313.33 755.01 L313.37 701.89 L313.41 677.88 L313.41 678.23 L313.45 712.18 L313.49 765.45 L313.53 806.38 L313.57 832.7 L313.61 849.28 L313.65 860.02 L313.69 867.24 L313.73 872.28 L313.77 875.91 L313.81 878.61 L313.85 880.66 L313.89 882.26 L313.93 883.52 L313.97 884.54 L314.01 885.37 L314.05 886.06 L314.09 886.63 L314.13 887.12 L314.17 887.53 L314.21 887.89 L314.25 888.2 L314.29 888.47 L314.33 888.71 L314.37 888.91 L314.41 889.1 L314.45 889.27 L314.49 889.41 L314.53 889.55 L314.57 889.67 L314.61 889.78 L314.65 889.88 L314.69 889.97 L314.73 890.05 L314.77 890.12 L314.81 890.19 L314.85 890.26 L314.89 890.32 L314.93 890.37 L314.97 890.42 L315.01 890.47 L315.05 890.52 L315.09 890.56 L315.13 890.6 L315.17 890.63 L315.21 890.67 L315.25 890.7 L315.29 890.73 L315.33 890.76 L315.37 890.78 L315.41 890.81 L315.45 890.83 L315.49 890.85 L315.53 890.88 L315.57 890.9 L315.65 890.93 L315.73 890.97 L315.81 891 L315.89 891.03 L315.97 891.05 L316.05 891.08 L316.13 891.1 L316.21 891.12 L316.33 891.14 L316.45 891.17 L316.57 891.19 L316.73 891.22 L316.89 891.24 L317.09 891.26 L317.29 891.28 L317.53 891.31 L317.81 891.33 L318.13 891.35 L318.53 891.37 L319.05 891.39 L319.73 891.41 L320.69 891.43 L322.17 891.45 L324.97 891.47 L333.93 891.49 L459.41 891.47 L460.77 891.45 L461.49 891.43 L461.97 891.41 L462.29 891.39 L462.57 891.36 L462.77 891.34 L462.93 891.32 L463.09 891.29 L463.21 891.27 L463.33 891.24 L463.41 891.22 L463.49 891.2 L463.57 891.17 L463.65 891.14 L463.73 891.1 L463.77 891.08 L463.81 891.06 L463.85 891.04 L463.89 891.01 L463.93 890.99 L463.97 890.96 L464.01 890.93 L464.05 890.89 L464.09 890.85 L464.13 890.81 L464.17 890.77 L464.21 890.72 L464.25 890.66 L464.29 890.6 L464.33 890.53 L464.37 890.45 L464.41 890.36 L464.45 890.27 L464.49 890.15 L464.53 890.03 L464.57 889.88 L464.61 889.71 L464.65 889.51 L464.69 889.28 L464.73 889.01 L464.77 888.68 L464.81 888.29 L464.85 887.8 L464.89 887.2 L464.93 886.45 L464.97 885.48 L465.01 884.21 L465.05 882.5 L465.09 880.15 L465.13 876.8 L465.17 871.86 L465.21 864.27 L465.25 852.27 L465.29 833.38 L465.33 807.25 L465.37 786.05 L465.38 784.45 L465.41 791.95 L465.45 817.74 L465.49 841.54 L465.53 857.52 L465.57 867.57 L465.61 873.98 L465.65 878.23 L465.69 881.14 L465.73 883.22 L465.77 884.73 L465.81 885.88 L465.85 886.76 L465.89 887.45 L465.93 888 L465.97 888.45 L466.01 888.81 L466.05 889.12 L466.09 889.38 L466.13 889.59 L466.17 889.78 L466.21 889.94 L466.25 890.08 L466.29 890.2 L466.33 890.3 L466.37 890.4 L466.41 890.48 L466.45 890.56 L466.49 890.62 L466.53 890.68 L466.57 890.74 L466.61 890.78 L466.65 890.83 L466.69 890.87 L466.73 890.91 L466.77 890.94 L466.81 890.97 L466.85 891 L466.89 891.02 L466.93 891.05 L466.97 891.07 L467.01 891.09 L467.09 891.13 L467.17 891.16 L467.25 891.19 L467.33 891.21 L467.41 891.24 L467.53 891.26 L467.65 891.29 L467.77 891.31 L467.93 891.33 L468.13 891.36 L468.37 891.38 L468.69 891.4 L469.09 891.42 L469.69 891.44 L470.73 891.46 L473.17 891.48 L546.21 891.46 L547.57 891.44 L548.37 891.42 L548.93 891.4 L549.33 891.38 L549.65 891.36 L549.89 891.34 L550.09 891.31 L550.29 891.29 L550.45 891.27 L550.57 891.24 L550.69 891.22 L550.81 891.19 L550.89 891.17 L550.97 891.15 L551.05 891.13 L551.13 891.1 L551.21 891.07 L551.29 891.03 L551.37 891 L551.41 890.98 L551.45 890.95 L551.49 890.93 L551.53 890.9 L551.57 890.88 L551.61 890.85 L551.65 890.82 L551.69 890.78 L551.73 890.75 L551.77 890.71 L551.81 890.67 L551.85 890.62 L551.89 890.58 L551.93 890.52 L551.97 890.47 L552.01 890.4 L552.05 890.33 L552.09 890.26 L552.13 890.18 L552.17 890.09 L552.21 889.99 L552.25 889.88 L552.29 889.75 L552.33 889.61 L552.37 889.46 L552.41 889.28 L552.45 889.09 L552.49 888.86 L552.53 888.6 L552.57 888.3 L552.61 887.95 L552.65 887.54 L552.69 887.06 L552.73 886.49 L552.77 885.8 L552.81 884.95 L552.85 883.91 L552.89 882.59 L552.93 880.92 L552.97 878.74 L553.01 875.82 L553.05 871.83 L553.09 866.19 L553.13 857.93 L553.17 845.38 L553.21 825.62 L553.25 794.28 L553.29 748.74 L553.33 704 L553.35 695.44 L553.37 701.83 L553.41 744.9 L553.45 791.3 L553.49 823.7 L553.53 844.17 L553.57 857.16 L553.61 865.67 L553.65 871.47 L553.69 875.56 L553.73 878.54 L553.77 880.77 L553.81 882.48 L553.85 883.82 L553.89 884.88 L553.93 885.74 L553.97 886.44 L554.01 887.02 L554.05 887.51 L554.09 887.92 L554.13 888.28 L554.17 888.58 L554.21 888.84 L554.25 889.07 L554.29 889.27 L554.33 889.45 L554.37 889.6 L554.41 889.74 L554.45 889.87 L554.49 889.98 L554.53 890.08 L554.57 890.17 L554.61 890.25 L554.65 890.33 L554.69 890.4 L554.73 890.46 L554.77 890.52 L554.81 890.57 L554.85 890.62 L554.89 890.67 L554.93 890.71 L554.97 890.75 L555.01 890.78 L555.05 890.82 L555.09 890.85 L555.13 890.88 L555.17 890.9 L555.21 890.93 L555.25 890.95 L555.29 890.97 L555.33 891 L555.41 891.03 L555.49 891.07 L555.57 891.1 L555.65 891.13 L555.73 891.15 L555.81 891.17 L555.89 891.19 L556.01 891.22 L556.13 891.24 L556.25 891.27 L556.41 891.29 L556.57 891.31 L556.77 891.33 L557.01 891.35 L557.29 891.37 L557.65 891.39 L558.13 891.42 L558.81 891.44 L559.89 891.46 L561.93 891.48 L566.97 891.5 L572.41 891.52 L574.49 891.54 L575.53 891.56 L576.17 891.58 L576.65 891.6 L577.01 891.62 L577.29 891.65 L577.49 891.67 L577.69 891.69 L577.85 891.72 L577.97 891.74 L578.09 891.76 L578.21 891.79 L578.29 891.81 L578.37 891.84 L578.45 891.87 L578.53 891.9 L578.61 891.93 L578.65 891.95 L578.69 891.97 L578.73 891.99 L578.77 892.02 L578.81 892.04 L578.85 892.07 L578.89 892.1 L578.93 892.13 L578.97 892.16 L579.01 892.2 L579.05 892.24 L579.09 892.28 L579.13 892.33 L579.17 892.38 L579.21 892.43 L579.25 892.5 L579.29 892.56 L579.33 892.64 L579.37 892.72 L579.41 892.81 L579.45 892.92 L579.49 893.03 L579.53 893.16 L579.57 893.31 L579.61 893.48 L579.65 893.67 L579.69 893.89 L579.73 894.14 L579.77 894.44 L579.81 894.8 L579.85 895.21 L579.89 895.72 L579.93 896.33 L579.97 897.08 L580.01 898.02 L580.05 899.21 L580.09 900.75 L580.13 902.79 L580.17 905.56 L580.21 909.43 L580.25 915.04 L580.29 923.45 L580.33 936.55 L580.37 957.4 L580.41 989.17 L580.45 1026.89 L580.48 1043.05 L580.49 1042.64 L580.53 1017.61 L580.57 979.79 L580.61 951 L580.65 932.53 L580.69 920.9 L580.73 913.36 L580.77 908.29 L580.81 904.75 L580.85 902.2 L580.89 900.31 L580.93 898.87 L580.97 897.75 L581.01 896.87 L581.05 896.16 L581.09 895.58 L581.13 895.1 L581.17 894.7 L581.21 894.36 L581.25 894.07 L581.29 893.83 L581.33 893.62 L581.37 893.43 L581.41 893.27 L581.45 893.13 L581.49 893 L581.53 892.89 L581.57 892.79 L581.61 892.7 L581.65 892.62 L581.69 892.55 L581.73 892.48 L581.77 892.42 L581.81 892.36 L581.85 892.31 L581.89 892.27 L581.93 892.23 L581.97 892.19 L582.01 892.15 L582.05 892.12 L582.09 892.09 L582.13 892.06 L582.17 892.03 L582.21 892.01 L582.25 891.99 L582.29 891.97 L582.33 891.95 L582.41 891.91 L582.49 891.88 L582.57 891.85 L582.65 891.82 L582.73 891.8 L582.81 891.78 L582.93 891.75 L583.05 891.73 L583.17 891.71 L583.33 891.68 L583.53 891.66 L583.77 891.64 L584.05 891.62 L584.41 891.59 L584.89 891.57 L585.61 891.55 L586.81 891.53 L589.49 891.51 L597.93 891.49 L603.25 891.47 L605.17 891.45 L606.17 891.43 L606.81 891.41 L607.29 891.39 L607.65 891.37 L607.93 891.35 L608.17 891.32 L608.37 891.3 L608.53 891.28 L608.69 891.25 L608.81 891.23 L608.93 891.21 L609.05 891.18 L609.13 891.15 L609.21 891.13 L609.29 891.1 L609.37 891.07 L609.45 891.04 L609.53 891 L609.57 890.98 L609.61 890.96 L609.65 890.93 L609.69 890.91 L609.73 890.88 L609.77 890.85 L609.81 890.82 L609.85 890.79 L609.89 890.76 L609.93 890.72 L609.97 890.68 L610.01 890.63 L610.05 890.58 L610.09 890.53 L610.13 890.48 L610.17 890.42 L610.21 890.35 L610.25 890.28 L610.29 890.19 L610.33 890.11 L610.37 890.01 L610.41 889.9 L610.45 889.78 L610.49 889.64 L610.53 889.49 L610.57 889.32 L610.61 889.13 L610.65 888.91 L610.69 888.65 L610.73 888.36 L610.77 888.02 L610.81 887.63 L610.85 887.16 L610.89 886.61 L610.93 885.94 L610.97 885.13 L611.01 884.13 L611.05 882.88 L611.09 881.28 L611.13 879.21 L611.17 876.47 L611.21 872.73 L611.25 867.47 L611.29 859.83 L611.33 848.3 L611.37 830.26 L611.41 801.58 L611.45 758.58 L611.49 710.83 L611.52 695.44 L611.53 697.59 L611.57 734.99 L611.61 783.18 L611.65 818.42 L611.69 840.86 L611.73 855.03 L611.77 864.25 L611.81 870.49 L611.85 874.86 L611.89 878.03 L611.93 880.38 L611.97 882.18 L612.01 883.58 L612.05 884.69 L612.09 885.58 L612.13 886.31 L612.17 886.92 L612.21 887.42 L612.25 887.85 L612.29 888.21 L612.33 888.52 L612.37 888.79 L612.41 889.03 L612.45 889.23 L612.49 889.41 L612.53 889.57 L612.57 889.72 L612.61 889.84 L612.65 889.96 L612.69 890.06 L612.73 890.15 L612.77 890.24 L612.81 890.31 L612.85 890.38 L612.89 890.45 L612.93 890.51 L612.97 890.56 L613.01 890.61 L613.05 890.66 L613.09 890.7 L613.13 890.74 L613.17 890.77 L613.21 890.81 L613.25 890.84 L613.29 890.87 L613.33 890.9 L613.37 890.92 L613.41 890.95 L613.45 890.97 L613.49 890.99 L613.53 891.01 L613.61 891.05 L613.69 891.08 L613.77 891.11 L613.85 891.14 L613.93 891.16 L614.01 891.18 L614.13 891.21 L614.25 891.23 L614.37 891.26 L614.53 891.28 L614.69 891.3 L614.89 891.33 L615.13 891.35 L615.41 891.37 L615.77 891.39 L616.25 891.41 L616.93 891.43 L617.97 891.45 L620.01 891.47 L627.97 891.49 L637.61 891.5" stroke="#861414" stroke-width="1.05" stroke-opacity="0.62" fill="none" stroke-linejoin="round"/>
<path d="M144.44 891.5 V932.77 M292.99 891.5 V932.77 M305.63 891.5 V820.85 M311.57 891.5 V750.94 M313.41 891.5 V750.94 M465.38 891.5 V820.85 M553.35 891.5 V762.1 M580.48 891.5 V991.53 M611.52 891.5 V762.1" stroke="#861414" stroke-width="1.1" stroke-opacity="0.5" fill="none"/>
<path d="M144.44 891.5 V905.26 M292.99 891.5 V905.26 M305.63 891.5 V867.95 M311.57 891.5 V844.65 M313.41 891.5 V844.65 M465.38 891.5 V867.95 M553.35 891.5 V848.37 M580.48 891.5 V924.84 M611.52 891.5 V848.37" stroke="#861414" stroke-width="1.3" stroke-opacity="0.7" fill="none"/>
<path d="M58.5 891.5 H637" stroke="#861414" stroke-width="1.3" fill="none"/>
<path d="M640.5 656 V1065 M640.5 1061.38 h3.5 M640.5 1047.28 h2 M640.5 1033.17 h3.5 M640.5 1019.07 h2 M640.5 1004.97 h3.5 M640.5 990.87 h2 M640.5 976.76 h3.5 M640.5 962.66 h2 M640.5 948.56 h3.5 M640.5 934.46 h2 M640.5 920.36 h3.5 M640.5 906.25 h2 M640.5 891.5 h3.5 M640.5 878.05 h2 M640.5 863.94 h3.5 M640.5 849.84 h2 M640.5 835.74 h3.5 M640.5 821.64 h2 M640.5 807.53 h3.5 M640.5 793.43 h2 M640.5 779.33 h3.5 M640.5 765.23 h2 M640.5 751.12 h3.5 M640.5 737.02 h2 M640.5 722.92 h3.5 M640.5 708.82 h2 M640.5 694.71 h3.5 M640.5 680.61 h2 M640.5 666.51 h3.5 M58 1067.5 H638 M58.61 1067.5 v4 M71.2 1067.5 v2 M83.78 1067.5 v4 M96.37 1067.5 v2 M108.95 1067.5 v4 M121.54 1067.5 v2 M134.12 1067.5 v4 M146.71 1067.5 v2 M159.29 1067.5 v4 M171.88 1067.5 v2 M184.46 1067.5 v4 M197.05 1067.5 v2 M209.63 1067.5 v4 M222.22 1067.5 v2 M234.8 1067.5 v4 M247.39 1067.5 v2 M259.97 1067.5 v4 M272.56 1067.5 v2 M285.14 1067.5 v4 M297.73 1067.5 v2 M310.31 1067.5 v4 M322.9 1067.5 v2 M335.48 1067.5 v4 M348.07 1067.5 v2 M360.65 1067.5 v4 M373.24 1067.5 v2 M385.82 1067.5 v4 M398.41 1067.5 v2 M410.99 1067.5 v4 M423.58 1067.5 v2 M436.16 1067.5 v4 M448.75 1067.5 v2 M461.33 1067.5 v4 M473.92 1067.5 v2 M486.5 1067.5 v4 M499.09 1067.5 v2 M511.67 1067.5 v4 M524.25 1067.5 v2 M536.84 1067.5 v4 M549.43 1067.5 v2 M562.01 1067.5 v4 M574.6 1067.5 v2 M587.18 1067.5 v4 M599.76 1067.5 v2 M612.35 1067.5 v4 M624.94 1067.5 v2" stroke="#1a1a1a" stroke-width="1" fill="none"/>
<g font-family="Liberation Sans, sans-serif" font-size="6.6" fill="#000" stroke="#000" stroke-width="0.1">
<text transform="translate(645.6 1063.58) scale(1.13 1)">-0.30</text>
<text transform="translate(645.6 1035.38) scale(1.13 1)">-0.25</text>
<text transform="translate(645.6 1007.17) scale(1.13 1)">-0.20</text>
<text transform="translate(645.6 978.97) scale(1.13 1)">-0.15</text>
<text transform="translate(645.6 950.76) scale(1.13 1)">-0.10</text>
<text transform="translate(645.6 922.56) scale(1.13 1)">-0.05</text>
<text transform="translate(645.6 893.7) scale(1.13 1)">0.00</text>
<text transform="translate(645.6 866.14) scale(1.13 1)">0.05</text>
<text transform="translate(645.6 837.94) scale(1.13 1)">0.10</text>
<text transform="translate(645.6 809.74) scale(1.13 1)">0.15</text>
<text transform="translate(645.6 781.53) scale(1.13 1)">0.20</text>
<text transform="translate(645.6 753.33) scale(1.13 1)">0.25</text>
<text transform="translate(645.6 725.12) scale(1.13 1)">0.30</text>
<text transform="translate(645.6 696.91) scale(1.13 1)">0.35</text>
<text transform="translate(645.6 668.71) scale(1.13 1)">0.40</text>
<clipPath id="cl2"><rect x="58.2" y="1068" width="780" height="30"/></clipPath>
<g clip-path="url(#cl2)" text-anchor="middle">
<text transform="translate(613.35 1079.3) scale(1.08 1)">10</text>
<text transform="translate(588.18 1079.3) scale(1.08 1)">20</text>
<text transform="translate(563.01 1079.3) scale(1.08 1)">30</text>
<text transform="translate(537.84 1079.3) scale(1.08 1)">40</text>
<text transform="translate(512.67 1079.3) scale(1.08 1)">50</text>
<text transform="translate(487.5 1079.3) scale(1.08 1)">60</text>
<text transform="translate(462.33 1079.3) scale(1.08 1)">70</text>
<text transform="translate(437.16 1079.3) scale(1.08 1)">80</text>
<text transform="translate(411.99 1079.3) scale(1.08 1)">90</text>
<text transform="translate(386.82 1079.3) scale(1.08 1)">100</text>
<text transform="translate(361.65 1079.3) scale(1.08 1)">110</text>
<text transform="translate(336.48 1079.3) scale(1.08 1)">120</text>
<text transform="translate(311.31 1079.3) scale(1.08 1)">130</text>
<text transform="translate(286.14 1079.3) scale(1.08 1)">140</text>
<text transform="translate(260.97 1079.3) scale(1.08 1)">150</text>
<text transform="translate(235.8 1079.3) scale(1.08 1)">160</text>
<text transform="translate(210.63 1079.3) scale(1.08 1)">170</text>
<text transform="translate(185.46 1079.3) scale(1.08 1)">180</text>
<text transform="translate(160.29 1079.3) scale(1.08 1)">190</text>
<text transform="translate(135.12 1079.3) scale(1.08 1)">200</text>
<text transform="translate(109.95 1079.3) scale(1.08 1)">210</text>
<text transform="translate(84.78 1079.3) scale(1.08 1)">220</text>
<text transform="translate(59.61 1079.3) scale(1.08 1)">230</text>
<text transform="translate(349 1087) scale(1.12 1)">f1 (ppm)</text>
</g></g>
</g>
<text x="57.6" y="651.4" font-family="Liberation Sans, sans-serif" font-size="19.7" fill="#000" stroke="#000" stroke-width="0.25" textLength="124.5" lengthAdjust="spacingAndGlyphs">APT 13C-NMR</text>
<g font-family="Liberation Serif, serif" font-size="16" fill="#000" stroke="#000" stroke-width="0.22">
<text x="58.5" y="544" textLength="750.5" lengthAdjust="spacing"><tspan font-size="10.4" dy="-6.6">1</tspan><tspan dy="6.6">H NMR (400 MHz, DMSO-</tspan><tspan font-style="italic">d</tspan><tspan font-size="10.4" dy="2.4">6</tspan><tspan dy="-2.4">) δ 8.07 – 7.99 (m, 2H), 7.71 – 7.61 (m, 1H), 7.56 – 7.46 (m, 2H), 7.20* (s, 2H),</tspan></text>
<text x="58.5" y="563.7" textLength="606" lengthAdjust="spacing">4.98 (t, <tspan font-style="italic">J</tspan> = 6.6 Hz, 1H), 2.49 (s, 3H), 2.22 (quin, <tspan font-style="italic">J</tspan> = 6.7 Hz, 2H), 0.94 (t, <tspan font-style="italic">J</tspan> = 6.7 Hz, 3H).</text>
<text x="58.5" y="1124" textLength="665.5" lengthAdjust="spacing"><tspan font-size="10.4" dy="-6.4">13</tspan><tspan dy="6.4">C NMR (100 MHz, CDCl</tspan><tspan font-size="10.4" dy="2.4">3</tspan><tspan dy="-2.4">) δ 195.90, 136.88, 131.86, 129.50, 128.77, 68.39, 33.44, 22.66, 10.33.</tspan></text>
</g>
</svg>
</body></html>
